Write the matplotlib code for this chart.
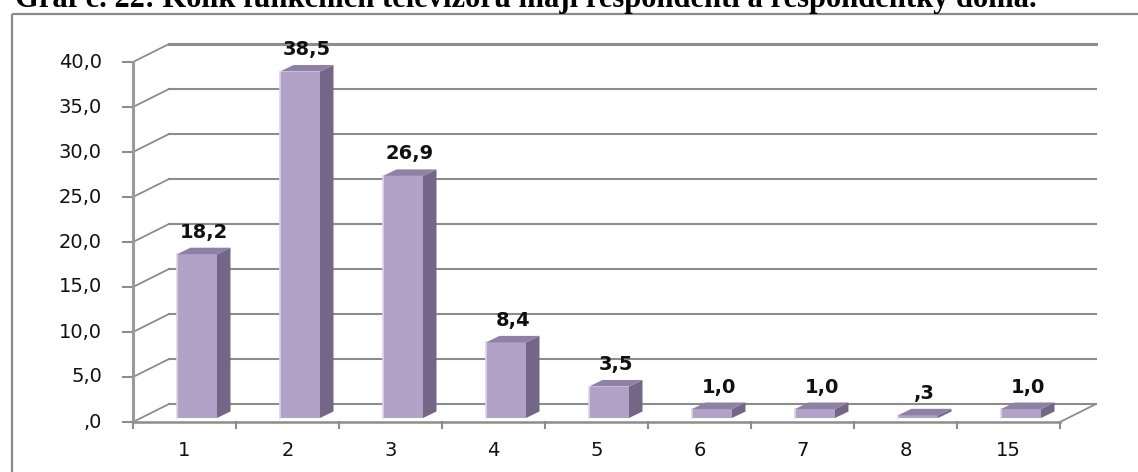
import matplotlib
matplotlib.use("Agg")
import matplotlib.pyplot as plt
import matplotlib.patches as mpatches

# data
categories = ["1", "2", "3", "4", "5", "6", "7", "8", "15"]
values = [18.2, 38.5, 26.9, 8.4, 3.5, 1.0, 1.0, 0.3, 1.0]
yticks = [0, 5, 10, 15, 20, 25, 30, 35, 40]
title = "Graf č. 22: Kolik funkčních televizorů mají respondenti a respondentky doma."

FRONT = "#b3a2c7"
SIDE = "#736686"
TOP = "#8f80a5"
GRID = "#8c8c8c"

W, H = 1138, 472
fig = plt.figure(figsize=(W / 100, H / 100), dpi=100)
fig.patch.set_facecolor("white")

# outer frame (runs off the right and bottom edges)
frame = fig.add_axes([0, 0, 1, 1])
frame.set_xlim(0, W)
frame.set_ylim(H, 0)
frame.axis("off")
frame.add_patch(mpatches.Rectangle((12, 14), W + 20, H + 20, fill=False,
                                   edgecolor="#8a8a8a", linewidth=1.6))

# title is clipped at the top edge, as in the source
fig.text(15 / W, 1 - 7 / H, title, ha="left", va="baseline",
         fontsize=22, weight="bold", family="Liberation Serif")

# front plane of the 3D box: x in slots, y in value units
left, right, zero_y, top_y = 133, 1060, 422, 62
ax = fig.add_axes([left / W, (H - zero_y) / H, (right - left) / W,
                   (zero_y - top_y) / H])
n = len(categories)
ax.set_xlim(0, n)
ax.set_ylim(0, 40)
ax.axis("off")

pxx = (right - left) / n          # pixels per slot
pxy = (zero_y - top_y) / 40       # pixels per unit
dx, dy = 36 / pxx, 18 / pxy       # wall depth in data units

# back wall gridlines and left wall diagonals
for t in yticks:
    lw = 2.2 if t == yticks[-1] else 1.5
    ax.plot([dx, n + dx], [t + dy, t + dy], color=GRID, lw=lw, clip_on=False)
    ax.plot([0, dx], [t, t + dy], color=GRID, lw=1.3, clip_on=False)
    ax.plot([-10 / pxx, 0], [t, t], color=GRID, lw=1.5, clip_on=False)
    lab = f"{t:.1f}".replace(".", ",")
    if lab.startswith("0,"):
        lab = lab[1:]
    ax.text(-31 / pxx, t, lab, ha="right", va="center", fontsize=14,
            color="#111111")

# floor
ax.plot([0, n], [0, 0], color=GRID, lw=1.8, clip_on=False)
ax.plot([n, n + dx], [0, dy], color=GRID, lw=1.3, clip_on=False)
ax.plot([0, 0], [0, 40], color="#9a9a9a", lw=2.2, clip_on=False)
for i in range(n + 1):
    ax.plot([i, i], [0, -6 / pxy], color=GRID, lw=1.5, clip_on=False)
for i, c in enumerate(categories):
    ax.text(i + 0.5, -28 / pxy, c, ha="center", va="center", fontsize=14,
            color="#111111")

# bars: front face, side and top
bx, by = 12.5 / pxx, 4 / pxy
bw = 40 / pxx
ddx, ddy = 13.5 / pxx, 6.5 / pxy
xs = [i + 0.5 - bw / 2 + bx for i in range(n)]
ax.bar(xs, values, width=bw, bottom=by, align="edge", color=FRONT,
       edgecolor="none", clip_on=False, zorder=3)
for x0, v in zip(xs, values):
    x1 = x0 + bw
    y1 = by + v
    ax.add_patch(mpatches.Polygon(
        [(x1, by), (x1 + ddx, by + ddy), (x1 + ddx, y1 + ddy), (x1, y1)],
        closed=True, facecolor=SIDE, edgecolor="none", clip_on=False, zorder=3))
    ax.add_patch(mpatches.Polygon(
        [(x0, y1), (x1, y1), (x1 + ddx, y1 + ddy), (x0 + ddx, y1 + ddy)],
        closed=True, facecolor=TOP, edgecolor="none", clip_on=False, zorder=3))
    ax.plot([x0, x0], [by, y1], color="#ddd4e8", lw=1.2, clip_on=False, zorder=4)
    lab = f"{v:.1f}".replace(".", ",")
    if lab.startswith("0,"):
        lab = lab[1:]
    ax.annotate(lab, (x0 + bw / 2 + ddx / 2, y1 + ddy), xytext=(0, 10),
                textcoords="offset pixels", ha="center", va="baseline",
                fontsize=14, weight="bold", color="#111111",
                annotation_clip=False)

fig.savefig("out.png", dpi=100, facecolor="white")
